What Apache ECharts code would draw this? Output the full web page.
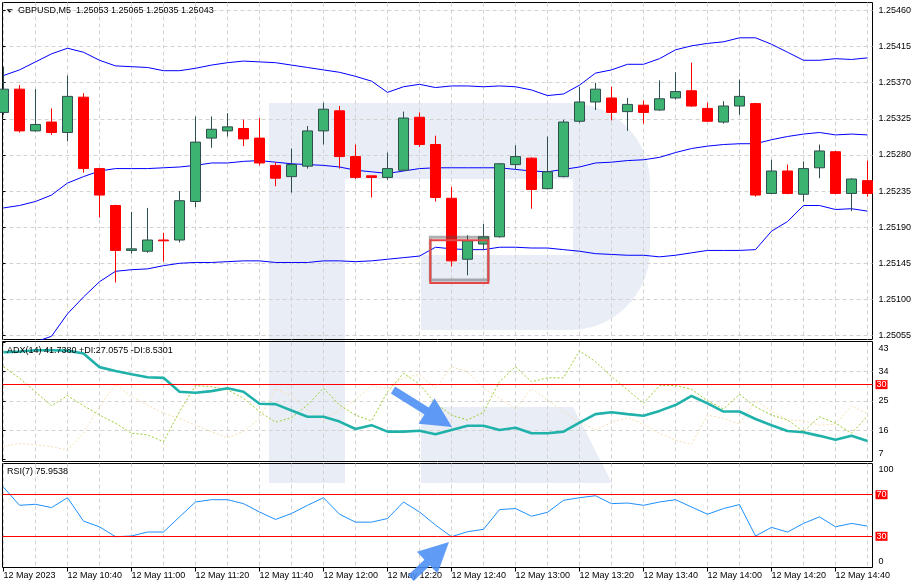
<!DOCTYPE html>
<html>
<head>
<meta charset="utf-8">
<script src="https://cdn.jsdelivr.net/npm/echarts@6/dist/echarts.min.js"></script>
<style>
html, body { margin: 0; padding: 0; background: #fff; }
#chart { width: 919px; height: 588px; }
</style>
</head>
<body>
<div id="chart"></div>
<script>
// GBPUSD M5, 12 May 2023 - candles + Bollinger, ADX(14), RSI(7)
const times = ['10:20', '10:25', '10:30', '10:35', '10:40', '10:45', '10:50', '10:55', '11:00', '11:05',
  '11:10', '11:15', '11:20', '11:25', '11:30', '11:35', '11:40', '11:45', '11:50', '11:55',
  '12:00', '12:05', '12:10', '12:15', '12:20', '12:25', '12:30', '12:35', '12:40', '12:45',
  '12:50', '12:55', '13:00', '13:05', '13:10', '13:15', '13:20', '13:25', '13:30', '13:35',
  '13:40', '13:45', '13:50', '13:55', '14:00', '14:05', '14:10', '14:15', '14:20', '14:25',
  '14:30', '14:35', '14:40', '14:45', '14:50'];

const opens = [1.25333, 1.25362, 1.25310, 1.25321, 1.25308, 1.25352, 1.25263, 1.25217, 1.25161, 1.25160,
  1.25174, 1.25174, 1.25222, 1.25301, 1.25310, 1.25313, 1.25301, 1.25267, 1.25253, 1.25266,
  1.25310, 1.25335, 1.25278, 1.25254, 1.25252, 1.25261, 1.25327, 1.25293, 1.25226, 1.25150,
  1.25169, 1.25178, 1.25268, 1.25276, 1.25238, 1.25253, 1.25322, 1.25346, 1.25351, 1.25334,
  1.25342, 1.25336, 1.25351, 1.25360, 1.25338, 1.25321, 1.25341, 1.25344, 1.25232, 1.25260,
  1.25231, 1.25264, 1.25284, 1.25232, 1.25248];
const closes = [1.25362, 1.25310, 1.25318, 1.25308, 1.25353, 1.25263, 1.25230, 1.25161, 1.25163, 1.25174,
  1.25173, 1.25223, 1.25296, 1.25312, 1.25315, 1.25300, 1.25270, 1.25251, 1.25268, 1.25310,
  1.25337, 1.25278, 1.25252, 1.25252, 1.25263, 1.25326, 1.25293, 1.25227, 1.25148, 1.25173,
  1.25178, 1.25269, 1.25278, 1.25237, 1.25259, 1.25321, 1.25346, 1.25362, 1.25333, 1.25343,
  1.25333, 1.25350, 1.25359, 1.25341, 1.25322, 1.25341, 1.25353, 1.25230, 1.25260, 1.25232,
  1.25263, 1.25285, 1.25232, 1.25250, 1.25232];
const highs = [1.25390, 1.25367, 1.25362, 1.25338, 1.25379, 1.25357, 1.25264, 1.25218, 1.25209, 1.25214,
  1.25183, 1.25235, 1.25328, 1.25328, 1.25332, 1.25324, 1.25326, 1.25271, 1.25288, 1.25316,
  1.25345, 1.25341, 1.25293, 1.25254, 1.25283, 1.25334, 1.25333, 1.25304, 1.25240, 1.25180,
  1.25194, 1.25270, 1.25292, 1.25277, 1.25303, 1.25324, 1.25365, 1.25370, 1.25365, 1.25351,
  1.25348, 1.25373, 1.25383, 1.25395, 1.25345, 1.25347, 1.25374, 1.25345, 1.25274, 1.25268,
  1.25272, 1.25293, 1.25285, 1.25251, 1.25273];
const lows = [1.25330, 1.25308, 1.25309, 1.25305, 1.25297, 1.25258, 1.25202, 1.25121, 1.25157, 1.25158,
  1.25147, 1.25171, 1.25215, 1.25289, 1.25303, 1.25291, 1.25267, 1.25241, 1.25233, 1.25263,
  1.25293, 1.25263, 1.25250, 1.25227, 1.25249, 1.25260, 1.25290, 1.25222, 1.25141, 1.25130,
  1.25162, 1.25177, 1.25262, 1.25213, 1.25237, 1.25252, 1.25320, 1.25336, 1.25323, 1.25310,
  1.25319, 1.25335, 1.25349, 1.25340, 1.25321, 1.25319, 1.25330, 1.25228, 1.25232, 1.25231,
  1.25222, 1.25251, 1.25231, 1.25210, 1.25228];

// Bollinger bands
const bbUpper = [1.25379, 1.25386, 1.25396, 1.25406, 1.25413, 1.25408, 1.25398, 1.25391, 1.25390, 1.25389,
  1.25385, 1.25385, 1.25388, 1.25392, 1.25395, 1.25397, 1.25396, 1.25395, 1.25392, 1.25389,
  1.25386, 1.25383, 1.25378, 1.25372, 1.25358, 1.25365, 1.25368, 1.25364, 1.25366, 1.25366,
  1.25365, 1.25366, 1.25365, 1.25361, 1.25354, 1.25356, 1.25367, 1.25382, 1.25386, 1.25393,
  1.25393, 1.25400, 1.25411, 1.25416, 1.25419, 1.25421, 1.25426, 1.25426, 1.25418, 1.25408,
  1.25398, 1.25398, 1.25400, 1.25399, 1.25401];
const bbMiddle = [1.25214, 1.25217, 1.25222, 1.25230, 1.25245, 1.25253, 1.25260, 1.25263, 1.25263, 1.25263,
  1.25264, 1.25265, 1.25267, 1.25270, 1.25270, 1.25272, 1.25273, 1.25271, 1.25269, 1.25268,
  1.25267, 1.25265, 1.25261, 1.25259, 1.25257, 1.25260, 1.25263, 1.25264, 1.25264, 1.25264,
  1.25264, 1.25264, 1.25262, 1.25260, 1.25259, 1.25262, 1.25265, 1.25270, 1.25271, 1.25273,
  1.25274, 1.25277, 1.25283, 1.25288, 1.25291, 1.25293, 1.25294, 1.25294, 1.25299, 1.25303,
  1.25306, 1.25308, 1.25305, 1.25306, 1.25305];
const bbLower = [1.25024, 1.25034, 1.25047, 1.25054, 1.25082, 1.25103, 1.25122, 1.25135, 1.25137, 1.25138,
  1.25142, 1.25145, 1.25146, 1.25146, 1.25147, 1.25148, 1.25148, 1.25146, 1.25146, 1.25146,
  1.25148, 1.25148, 1.25147, 1.25148, 1.25150, 1.25152, 1.25154, 1.25165, 1.25163, 1.25162,
  1.25162, 1.25165, 1.25165, 1.25164, 1.25164, 1.25162, 1.25160, 1.25157, 1.25156, 1.25155,
  1.25155, 1.25153, 1.25155, 1.25158, 1.25161, 1.25161, 1.25161, 1.25162, 1.25185, 1.25197,
  1.25217, 1.25217, 1.25212, 1.25213, 1.25210];

// ADX(14)
const adx = [40.0, 40.2, 40.6, 40.6, 40.5, 39.6, 35.4, 34.2, 33.2, 32.3,
  32.1, 27.8, 27.5, 28.0, 28.9, 27.8, 24.1, 24.0, 22.0, 20.1,
  20.1, 18.6, 16.3, 17.5, 15.5, 15.5, 15.8, 14.7, 16.0, 17.3,
  17.3, 16.0, 16.7, 15.0, 15.0, 15.5, 18.3, 20.9, 21.5, 20.9,
  20.4, 21.9, 23.7, 26.5, 24.2, 21.7, 21.7, 19.4, 17.5, 15.7,
  15.3, 14.2, 13.0, 14.2, 12.6];
const plusDI = [35.5, 32.0, 27.8, 23.5, 26.6, 23.5, 20.6, 18.1, 15.0, 14.5,
  12.4, 21.7, 29.7, 29.4, 28.4, 25.8, 21.7, 18.4, 19.8, 23.7,
  28.9, 23.7, 20.6, 18.8, 27.8, 33.5, 30.1, 24.2, 20.6, 19.1,
  21.5, 30.9, 35.5, 30.9, 32.1, 32.1, 40.4, 37.1, 32.5, 28.4,
  24.2, 29.7, 29.7, 28.6, 25.0, 22.5, 27.0, 23.2, 20.6, 19.1,
  15.5, 20.1, 18.1, 15.0, 20.3];
const minusDI = [10.9, 11.9, 11.4, 10.9, 9.8, 15.0, 23.2, 30.1, 26.3, 23.7,
  21.2, 19.6, 17.5, 15.5, 13.6, 15.5, 19.6, 28.7, 26.6, 22.2,
  19.1, 22.2, 25.3, 29.7, 28.9, 32.0, 33.2, 28.9, 35.5, 34.0,
  28.9, 25.8, 22.5, 28.9, 25.3, 21.7, 18.4, 16.0, 18.4, 19.8,
  17.8, 15.0, 12.9, 11.6, 20.6, 19.6, 17.8, 25.0, 21.9, 19.1,
  18.8, 17.5, 17.8, 23.5, 20.9];

// RSI(7)
const rsi = [77.2, 59.8, 60.8, 57.6, 67.1, 44.6, 39.1, 29.6, 30.3, 34.1,
  34.1, 48.7, 63.0, 65.2, 65.2, 61.4, 53.4, 46.2, 51.9, 59.8,
  67.1, 51.2, 43.6, 43.6, 47.1, 63.0, 53.4, 40.8, 29.6, 34.4,
  36.7, 55.7, 56.7, 49.3, 53.1, 64.6, 67.1, 69.0, 61.4, 62.0,
  59.8, 63.0, 65.2, 58.2, 51.2, 56.7, 60.5, 30.3, 38.6, 34.1,
  42.4, 48.7, 39.1, 42.4, 39.8];

// axis ticks / levels
const priceMin = 1.25055, priceMax = 1.25460, priceStep = 0.00045;
const adxMin = 7, adxMax = 43, adxStep = 9;
const adxLevels = [30];
const rsiLevels = [70, 30];

const FONT = '"Liberation Sans", Arial, sans-serif';
const gridLine = { color: '#d2d2d2', type: [4, 3], width: 1 };
const frame = { show: true, borderColor: '#000', borderWidth: 1, backgroundColor: 'transparent' };

// panel layout
const plotLeft = 3.5, plotWidth = 864;      // first .. last candle centre
const frameLeft = 2.5, frameWidth = 870;
const mainTop = 2.5, mainHeight = 337;
const viewMin = 1.2505, viewMax = 1.2547;   // visible price range of the main panel
const pxPerPrice = mainHeight / (viewMax - viewMin);
const scaleTop = mainTop + (viewMax - priceMax) * pxPerPrice;
const scaleHeight = (priceMax - priceMin) * pxPerPrice;
const adxTop = 342.5, adxHeight = 116.7;
const rsiTop = 463.5, rsiHeight = 104;

const chart = echarts.init(document.getElementById('chart'), null, { renderer: 'canvas' });

function hiddenValueX(gridIndex) {
  return { type: 'value', gridIndex, min: 0, max: 1, show: false };
}
function plotX(gridIndex, withLabels) {
  return {
    type: 'category', gridIndex, data: times, boundaryGap: false,
    axisLine: { show: false },
    axisTick: { show: withLabels, interval: 3, length: 4, lineStyle: { color: '#000' } },
    axisLabel: {
      show: withLabels, interval: 3, align: 'left', margin: 4, hideOverlap: false,
      fontSize: 9, fontFamily: FONT, color: '#000',
      formatter: (v, i) => i === 0 ? '12 May 2023' : '12 May ' + v
    },
    splitLine: { show: true, interval: 1, lineStyle: gridLine }
  };
}
const labelStyle = { fontSize: 9, fontFamily: FONT, color: '#000' };
const shifted = {
  t: { fontSize: 9, fontFamily: FONT, color: '#000', padding: [12, 0, 0, 0] },
  b: { fontSize: 9, fontFamily: FONT, color: '#000', padding: [0, 0, 12, 0] },
  n: { fontSize: 9, fontFamily: FONT, color: '#000' }
};
function levelMarks(levels) {
  return {
    symbol: ['none', 'none'], silent: true, animation: false,
    lineStyle: { color: '#ff0000', type: 'solid', width: 1 },
    label: {
      show: true, position: 'end', distance: 3, formatter: p => String(p.value),
      fontSize: 9, fontFamily: FONT, color: '#fff', backgroundColor: '#ff0000',
      padding: [1, 1, 0, 1], lineHeight: 8
    },
    data: levels.map(v => ({ yAxis: v }))
  };
}

const titleText = { fontSize: 9, fontFamily: FONT, fontWeight: 'normal', color: '#000', lineHeight: 11 };
const watermark = '#e9eef6';

const option = {
  animation: false,
  backgroundColor: '#fff',
  title: [
    { text: 'GBPUSD,M5  1.25053 1.25065 1.25035 1.25043', left: 18, top: 5.5, padding: 0, textStyle: titleText },
    { text: 'ADX(14) 41.7380 +DI:27.0575 -DI:8.5301', left: 7, top: 345.2, padding: 0, textStyle: titleText },
    { text: 'RSI(7) 75.9538', left: 7, top: 466.5, padding: 0, textStyle: titleText }
  ],
  grid: [
    { left: plotLeft, width: plotWidth, top: mainTop, height: mainHeight, outerBoundsMode: 'none' },      // 0 main plot
    { left: frameLeft, width: frameWidth, top: scaleTop, height: scaleHeight, outerBoundsMode: 'none' },  // 1 price scale
    Object.assign({ left: frameLeft, width: frameWidth, top: mainTop, height: mainHeight, outerBoundsMode: 'none' }, frame), // 2
    { left: plotLeft, width: plotWidth, top: adxTop, height: adxHeight, outerBoundsMode: 'none' },        // 3 adx plot
    { left: frameLeft, width: frameWidth, top: adxTop, height: adxHeight, outerBoundsMode: 'none' },      // 4 adx scale
    Object.assign({ left: frameLeft, width: frameWidth, top: 341.5, height: 120, outerBoundsMode: 'none' }, frame), // 5
    { left: plotLeft, width: plotWidth, top: rsiTop, height: rsiHeight, outerBoundsMode: 'none' },        // 6 rsi plot
    Object.assign({ left: frameLeft, width: frameWidth, top: rsiTop, height: rsiHeight, outerBoundsMode: 'none' }, frame) // 7
  ],
  xAxis: [
    plotX(0, false), hiddenValueX(1), hiddenValueX(2),
    plotX(3, false), hiddenValueX(4), hiddenValueX(5),
    plotX(6, true), hiddenValueX(7)
  ],
  yAxis: [
    { type: 'value', gridIndex: 0, min: viewMin, max: viewMax, show: false },
    {
      type: 'value', gridIndex: 1, position: 'right', min: priceMin, max: priceMax, interval: priceStep,
      axisLine: { show: false },
      axisTick: { show: true, length: 3, lineStyle: { color: '#000' } },
      axisLabel: Object.assign({ margin: 6, hideOverlap: false, formatter: v => v.toFixed(5) }, labelStyle),
      splitLine: { show: true, lineStyle: gridLine }
    },
    { type: 'value', gridIndex: 2, show: false, min: 0, max: 1 },
    { type: 'value', gridIndex: 3, min: adxMin, max: adxMax, show: false },
    {
      type: 'value', gridIndex: 4, position: 'right', min: adxMin, max: adxMax, interval: adxStep,
      axisLine: { show: false },
      axisTick: { show: true, length: 3, lineStyle: { color: '#000' } },
      axisLabel: {
        margin: 6, hideOverlap: false, rich: shifted,
        formatter: v => v === adxMax ? '{t|' + v + '}' : v === adxMin ? '{b|' + v + '}' : '{n|' + v + '}'
      },
      splitLine: { show: true, showMinLine: false, showMaxLine: false, lineStyle: gridLine }
    },
    { type: 'value', gridIndex: 5, show: false, min: 0, max: 1 },
    { type: 'value', gridIndex: 6, min: 0, max: 100, show: false },
    {
      type: 'value', gridIndex: 7, position: 'right', min: 0, max: 100, interval: 100,
      axisLine: { show: false },
      axisTick: { show: false },
      axisLabel: {
        margin: 6, hideOverlap: false, rich: shifted,
        formatter: v => v === 100 ? '{t|100}' : '{b|' + v + '}'
      },
      splitLine: { show: false }
    }
  ],
  series: [
    { name: 'BB upper', type: 'line', xAxisIndex: 0, yAxisIndex: 0, data: bbUpper, symbol: 'none',
      lineStyle: { color: '#0000ff', width: 1 }, z: 1 },
    { name: 'BB middle', type: 'line', xAxisIndex: 0, yAxisIndex: 0, data: bbMiddle, symbol: 'none',
      lineStyle: { color: '#0000ff', width: 1 }, z: 1 },
    { name: 'BB lower', type: 'line', xAxisIndex: 0, yAxisIndex: 0, data: bbLower, symbol: 'none',
      lineStyle: { color: '#0000ff', width: 1 }, z: 1 },
    {
      name: 'GBPUSD', type: 'candlestick', xAxisIndex: 0, yAxisIndex: 0, barWidth: 10, clip: false, z: 3,
      data: opens.map((o, i) => [o, closes[i], lows[i], highs[i]]),
      itemStyle: { color: '#3cb371', color0: '#ff0000', borderColor: '#2f4f4f', borderColor0: '#ff0000', borderWidth: 1 }
    },
    { name: '-DI', type: 'line', xAxisIndex: 3, yAxisIndex: 3, data: minusDI, symbol: 'none',
      lineStyle: { color: '#f5deb3', width: 1, type: [2, 2] } },
    { name: '+DI', type: 'line', xAxisIndex: 3, yAxisIndex: 3, data: plusDI, symbol: 'none',
      lineStyle: { color: '#9acd32', width: 1, type: [2, 2] } },
    { name: 'ADX', type: 'line', xAxisIndex: 3, yAxisIndex: 3, data: adx, symbol: 'none',
      lineStyle: { color: '#20b2aa', width: 2.6 } },
    { name: 'ADX level', type: 'line', xAxisIndex: 4, yAxisIndex: 4, data: [], markLine: levelMarks(adxLevels) },
    { name: 'RSI', type: 'line', xAxisIndex: 6, yAxisIndex: 6, data: rsi, symbol: 'none',
      lineStyle: { color: '#1e90ff', width: 1 } },
    { name: 'RSI levels', type: 'line', xAxisIndex: 7, yAxisIndex: 7, data: [], markLine: levelMarks(rsiLevels) }
  ],
  graphic: [
    // faint logo watermark behind the panels
    { type: 'rect', z: -10, silent: true, shape: { x: 269, y: 103, width: 381, height: 227, r: [0, 80, 80, 0] }, style: { fill: watermark } },
    { type: 'rect', z: -9, silent: true, shape: { x: 345, y: 179, width: 228, height: 76 }, style: { fill: '#fff' } },
    { type: 'rect', z: -9, silent: true, shape: { x: 345, y: 255, width: 76, height: 75 }, style: { fill: '#fff' } },
    { type: 'rect', z: -10, silent: true, shape: { x: 269, y: 103, width: 76, height: 380 }, style: { fill: watermark } },
    { type: 'polygon', z: -10, silent: true, shape: { points: [[421, 407], [573, 407], [612, 483], [421, 483]] }, style: { fill: watermark } },
    // header triangle
    { type: 'polygon', silent: true, shape: { points: [[6.5, 9.3], [12.8, 9.3], [9.65, 12.8]] }, style: { fill: '#000' } },
    // highlight box round the reversal candles
    { type: 'rect', z: 50, silent: true, shape: { x: 430.3, y: 237.3, width: 58, height: 42.7 }, style: { fill: 'none', stroke: 'rgba(80,80,80,0.45)', lineWidth: 3 } },
    { type: 'rect', z: 51, silent: true, shape: { x: 430.3, y: 240.3, width: 58, height: 42.7 }, style: { fill: 'none', stroke: '#e64545', lineWidth: 2 } },
    // arrows
    { type: 'polygon', z: 52, silent: true,
      shape: { points: [[390.9, 393.4], [424.5, 414.4], [418.6, 423.7], [452, 427], [434.6, 398.3], [428.7, 407.6], [395.1, 386.6]] },
      style: { fill: 'rgba(74,142,245,0.88)' } },
    { type: 'polygon', z: 52, silent: true,
      shape: { points: [[413.8, 580.9], [429.9, 565.5], [437.5, 573.5], [449, 542], [416.9, 551.7], [424.4, 559.7], [408.2, 575.1]] },
      style: { fill: 'rgba(74,142,245,0.88)' } }
  ]
};

chart.setOption(option);
</script>
</body>
</html>
